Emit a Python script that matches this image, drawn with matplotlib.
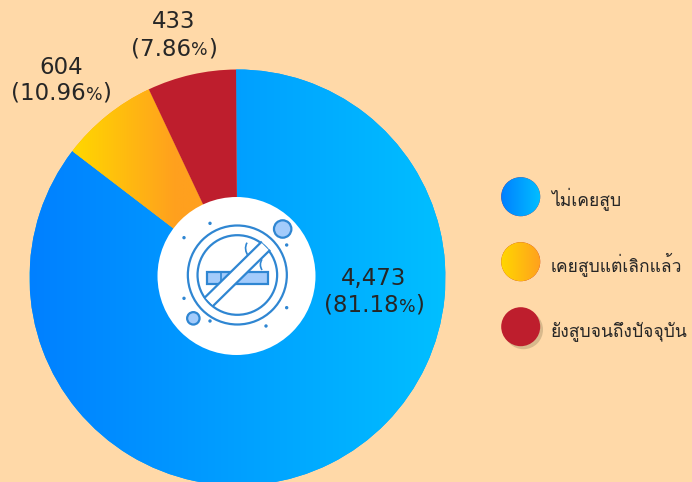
import numpy as np
import matplotlib
matplotlib.use('Agg')
import matplotlib.pyplot as plt
from matplotlib.patches import Circle, Rectangle, Polygon, PathPatch
from matplotlib.path import Path
from matplotlib.colors import LinearSegmentedColormap

BG = '#FFD9A8'
categories = ['ไม่เคยสูบ', 'เคยสูบแต่เลิกแล้ว', 'ยังสูบจนถึงปัจจุบัน']
counts = ['4,473', '604', '433']
percents = ['81.18', '10.96', '7.86']
# wedge shares as they appear in the picture (they differ from the printed percentages)
shares = [85.5, 7.6, 6.9]

W, H = 692, 482
def Y(py):
    return H - py

NUMFONT = dict(family='DejaVu Sans')
THAIFONT = dict(family='Loma')
TEXT = '#262626'

fig = plt.figure(figsize=(6.92, 4.82), dpi=100, facecolor=BG)
ax = fig.add_axes([0, 0, 1, 1])
CX, CY, R = 237.5, Y(277.5), 208
wedges, _ = ax.pie(shares, startangle=90.4, counterclock=False, center=(CX, CY), radius=R,
                   colors=['#00A0FF', '#FFB000', '#BE1E2D'], wedgeprops=dict(linewidth=0))
ax.set_xlim(0, W); ax.set_ylim(0, H); ax.set_aspect('auto'); ax.axis('off')

def grad(c0, c1, x0, x1, xend, y0, y1, clip, z):
    cm = LinearSegmentedColormap.from_list('g', [c0, c1])
    ramp = np.clip(np.linspace(0, (xend - x0) / (x1 - x0), 256), 0, 1)[None, :]
    im = ax.imshow(ramp, cmap=cm, vmin=0, vmax=1, extent=(x0, xend, y0, y1),
                   aspect='auto', zorder=z, interpolation='bilinear')
    im.set_clip_path(clip)
    return im

BLUE = ('#0080FF', '#00BFFF')
YEL = ('#FFD700', '#FFA01E')
grad(*BLUE, 30, 445, 445, 0, H, wedges[0], 1.5)
grad(*YEL, 73, 176, 240, 150, 400, wedges[1], 1.5)
wedges[2].set_zorder(1.6)

# centre disc
ax.add_patch(Circle((236.5, Y(276)), 79, fc='white', ec='none', zorder=3))

# no-smoking icon (zoom-crop coordinates mapped to pixels)
ICON = '#2F86D2'
FILL = '#A3CBFB'
def ix(x): return 150 + x / 3
def iy(y): return Y(190 + y / 3)
def ip(x, y): return (ix(x), iy(y))
LW = 1.6
icx, icy = ip(262, 255)
ax.add_patch(Circle((icx, icy), 49.5, fc='none', ec=ICON, lw=LW, zorder=4))
ax.add_patch(Circle((icx, icy), 39.8, fc='none', ec=ICON, lw=LW, zorder=4))
ax.add_patch(Rectangle(ip(170, 282), 185/3, 37/3, fc=FILL, ec=ICON, lw=LW, zorder=4))
ax.plot([ix(212)]*2, [iy(245), iy(282)], color=ICON, lw=1.2, zorder=4.1)
# smoke
for pts in ([(291, 158), (280, 178), (296, 200)], [(336, 208), (326, 224), (336, 240)]):
    ax.add_patch(PathPatch(Path([ip(*p) for p in pts], [Path.MOVETO, Path.CURVE3, Path.CURVE3]),
                           fc='none', ec=ICON, lw=1.2, zorder=4.1))
# prohibition band
ax.add_patch(Polygon([ip(165, 322), ip(333, 157), ip(358, 182), ip(190, 347)], fc='white', ec='none', zorder=4.2))
ax.plot([ix(165), ix(333)], [iy(322), iy(157)], color=ICON, lw=LW, zorder=4.3)
ax.plot([ix(190), ix(358)], [iy(347), iy(182)], color=ICON, lw=LW, zorder=4.3)
# bubbles and dots
ax.add_patch(Circle(ip(398, 117), 8.7, fc=FILL, ec=ICON, lw=LW, zorder=4))
ax.add_patch(Circle(ip(130, 385), 6.2, fc=FILL, ec=ICON, lw=LW, zorder=4))
for d in [(180, 100), (102, 143), (410, 165), (102, 325), (180, 393), (348, 408), (410, 353)]:
    ax.add_patch(Circle(ip(*d), 1.7, fc=ICON, ec='none', zorder=4))

# labels: number line plus "(xx.xx%)" line with a smaller percent sign
NUM = 16.5
PCT = 12.5
renderer = fig.canvas.get_renderer()
def width(s, size):
    t = ax.text(0, 0, s, fontsize=size, **NUMFONT)
    w = t.get_window_extent(renderer).width
    t.remove()
    return w
def label(cx, y1, y2, count, pct):
    ax.text(cx, Y(y1 + 8.5), count, fontsize=NUM, ha='center', va='baseline', color=TEXT, zorder=6, **NUMFONT)
    a, b, c = '(' + pct, '%', ')'
    wa, wb, wc = width(a, NUM), width(b, PCT), width(c, NUM)
    x = cx - (wa + wb + wc) / 2
    base = Y(y2 + 8.5)
    ax.text(x, base, a, fontsize=NUM, ha='left', va='baseline', color=TEXT, zorder=6, **NUMFONT)
    ax.text(x + wa, base, b, fontsize=PCT, ha='left', va='baseline', color=TEXT, zorder=6, **NUMFONT)
    ax.text(x + wa + wb, base, c, fontsize=NUM, ha='left', va='baseline', color=TEXT, zorder=6, **NUMFONT)

label(374, 276.5, 303.5, counts[0], percents[0])
label(61, 65, 91.5, counts[1], percents[1])
label(174, 20, 46.5, counts[2], percents[2])

# legend
LY = [196.7, 261.7, 326.7]
ax.add_patch(Circle((523.5, Y(LY[2] + 3)), 19.5, fc='#D8B98C', ec='none', zorder=2))
for i, ly in enumerate(LY):
    c = Circle((520.7, Y(ly)), 19.5, fc='#BE1E2D', ec='none', zorder=3)
    ax.add_patch(c)
    if i == 0:
        grad(*BLUE, 501, 540.5, 540.5, Y(ly) - 20, Y(ly) + 20, c, 3.5)
    elif i == 1:
        grad(*YEL, 501, 540.5, 540.5, Y(ly) - 20, Y(ly) + 20, c, 3.5)
    ax.text(551, Y(ly + 9), categories[i], fontsize=12.6, ha='left', va='baseline', color=TEXT, zorder=6, **THAIFONT)

ax.set_xlim(0, W); ax.set_ylim(0, H); ax.set_aspect('auto')
fig.savefig('out.png', dpi=100, facecolor=BG)
